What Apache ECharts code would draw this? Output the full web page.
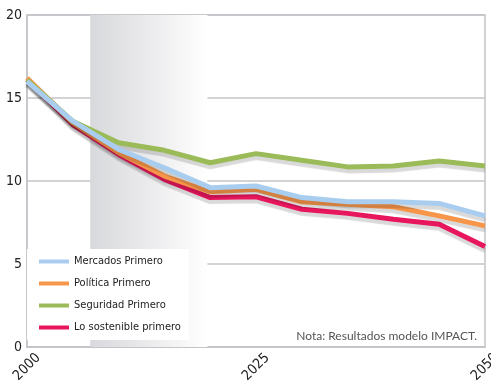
<!DOCTYPE html>
<html>
<head>
<meta charset="utf-8">
<script src="https://cdn.jsdelivr.net/npm/echarts@6/dist/echarts.min.js"></script>
<style>
  html, body { margin: 0; padding: 0; background: #fff; }
  #chart { width: 491px; height: 386px; }
</style>
</head>
<body>
<div id="chart"></div>
<script>
// años y valores
const years = [2000, 2005, 2010, 2015, 2020, 2025, 2030, 2035, 2040, 2045, 2050];
const mercados = [16.0, 13.6, 11.9, 10.8, 9.6, 9.7, 9.0, 8.75, 8.75, 8.65, 7.9];
const politica = [16.2, 13.5, 11.7, 10.3, 9.35, 9.5, 8.75, 8.6, 8.45, 7.9, 7.3];
const seguridad = [16.1, 13.6, 12.3, 11.85, 11.1, 11.65, 11.25, 10.85, 10.9, 11.2, 10.9];
const sostenible = [16.1, 13.4, 11.6, 10.1, 9.0, 9.05, 8.3, 8.05, 7.7, 7.4, 6.05];
const seriesNames = ['Mercados Primero', 'Política Primero', 'Seguridad Primero', 'Lo sostenible primero'];
const bandYears = [2006.9, 2019.7];

const narrow = "'Liberation Sans Narrow', 'DejaVu Sans Condensed', sans-serif";

const chart = echarts.init(document.getElementById('chart'));

const mkSeries = (name, values, color, z) => ({
  name,
  type: 'line',
  data: years.map((y, i) => [y, values[i]]),
  showSymbol: false,
  z,
  lineStyle: {
    width: 5,
    color,
    shadowColor: 'rgba(0, 0, 0, 0.15)',
    shadowOffsetY: 4,
    shadowBlur: 1
  },
  itemStyle: { color }
});

const option = {
  animation: false,
  grid: {
    left: 27,
    right: 6,
    top: 15,
    bottom: 39,
    outerBoundsMode: 'none',
    show: true,
    borderColor: '#c4c4c8',
    borderWidth: 1.5
  },
  title: {
    text: 'Nota: Resultados modelo IMPACT.',
    right: 9,
    top: 325,
    textStyle: {
      fontFamily: 'Lato, sans-serif',
      fontSize: 12,
      fontWeight: 'normal',
      color: '#555'
    }
  },
  legend: {
    orient: 'vertical',
    left: 27,
    top: 249,
    data: seriesNames,
    icon: 'rect',
    itemWidth: 30,
    itemHeight: 4,
    itemGap: 11,
    backgroundColor: '#fff',
    padding: [7, 8, 7, 12],
    textStyle: {
      fontFamily: narrow,
      fontSize: 11,
      color: '#222'
    }
  },
  xAxis: {
    type: 'value',
    min: 2000,
    max: 2050,
    interval: 25,
    splitLine: { show: false },
    axisTick: { show: false },
    axisLine: { lineStyle: { color: '#c4c4c8', width: 1.5 } },
    axisLabel: {
      rotate: 45,
      margin: 20,
      align: 'center',
      verticalAlign: 'middle',
      fontFamily: narrow,
      fontSize: 14,
      color: '#222',
      formatter: v => String(v)
    }
  },
  yAxis: {
    type: 'value',
    min: 0,
    max: 20,
    interval: 5,
    axisTick: { show: false },
    axisLine: { show: true, lineStyle: { color: '#c4c4c8', width: 1.5 } },
    splitLine: { lineStyle: { color: '#c4c4c8', width: 1.5 } },
    axisLabel: {
      margin: 5,
      fontFamily: narrow,
      fontSize: 14,
      color: '#222'
    }
  },
  series: [
    {
      name: 'band',
      type: 'line',
      data: [],
      z: -1,
      silent: true,
      markArea: {
        silent: true,
        itemStyle: {
          color: new echarts.graphic.LinearGradient(0, 0, 1, 0, [
            { offset: 0, color: '#d8d9dc' },
            { offset: 0.5, color: '#ebebed' },
            { offset: 1, color: '#ffffff' }
          ])
        },
        data: [[{ xAxis: bandYears[0] }, { xAxis: bandYears[1] }]]
      }
    },
    mkSeries(seriesNames[3], sostenible, '#e8175d', 3),
    mkSeries(seriesNames[1], politica, '#f7964a', 4),
    mkSeries(seriesNames[2], seguridad, '#9bbb59', 5),
    mkSeries(seriesNames[0], mercados, '#a9cdee', 6)
  ]
};

chart.setOption(option);
</script>
</body>
</html>
